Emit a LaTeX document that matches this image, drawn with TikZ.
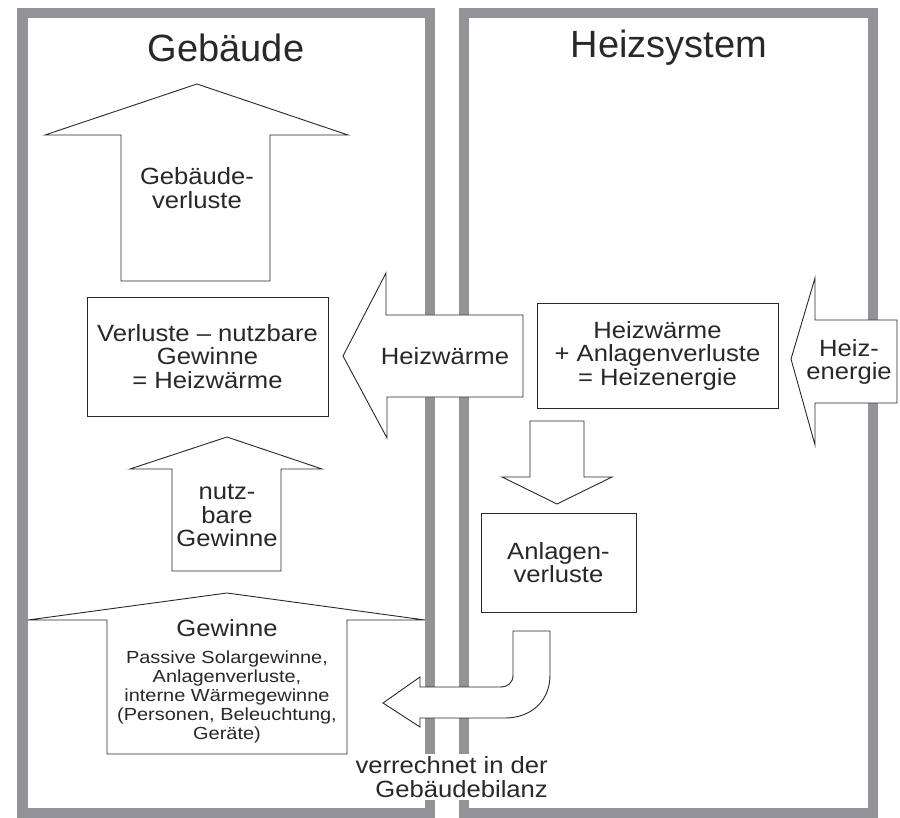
\documentclass[tikz,border=0pt]{standalone}
\usepackage{fontspec}
\setmainfont{Liberation Sans}
\newfontfamily\widefont{Liberation Sans}[FakeStretch=1.09,Ligatures=TeX]
\newfontfamily\smallwidefont{Liberation Sans}[FakeStretch=1.14,Ligatures=TeX]
\usetikzlibrary{positioning}
\definecolor{framegray}{RGB}{146,147,151}
\definecolor{inkgray}{RGB}{40,40,40}
\tikzset{box node/.style={draw=inkgray,fill=white,line width=0.9pt,align=center,text=inkgray,
    font=\widefont\fontsize{23.5}{23.5}\selectfont,inner sep=0pt}}

\begin{document}
\begin{tikzpicture}[x=1pt,y=-1pt,
        frame/.style={draw=framegray,line width=10.5pt},
        block arrow/.style={draw=inkgray,fill=white,line width=0.9pt,line join=miter},
        label node/.style={align=center,text=inkgray,font=\widefont\fontsize{23.5}{23.5}\selectfont,inner sep=1pt},
        small node/.style={align=center,text=inkgray,font=\smallwidefont\fontsize{17.5}{19}\selectfont,inner sep=0pt},
        title node/.style={text=inkgray,font=\fontsize{38}{40}\selectfont}]
  \useasboundingbox (0,0) rectangle (900,818);

  \draw[frame] (22.5,13) rectangle (430,813);
  \draw[frame] (464,13) rectangle (873,813);

  \node[title node] (geb) at (226,48) {Gebäude};
  \node[title node] (sys) at (669,48) {Heizsystem};

  \draw[block arrow] (121,281) -- (121,135) -- (45,135) -- (197,84) -- (348,135)
    -- (270,135) -- (270,281) -- cycle;
  \node[label node] (verl) at (197,188) {Gebäude-\\verluste};

  \node[box node,minimum width=241pt,minimum height=119pt] (bilanz) at (207.5,356.5)
    {Verluste -- nutzbare\\Gewinne\\= Heizwärme};

  \draw[block arrow] (172,571) -- (172,469) -- (130,469) -- (227,437) -- (322,469)
    -- (281,469) -- (281,571) -- cycle;
  \node[label node] (nutz) at (227,516) {nutz-\\bare\\Gewinne};

  \draw[block arrow] (107,754) -- (107,620) -- (28,620) -- (227,593) -- (425,620)
    -- (347,620) -- (347,754) -- cycle;
  \node[label node] (gew) at (227,628) {Gewinne};
  \node[small node] (quellen) at (227,697)
    {Passive Solargewinne,\\Anlagenverluste,\\interne Wärmegewinne\\(Personen, Beleuchtung,\\Geräte)};

  \draw[block arrow] (523,315) -- (386,315) -- (386,273) -- (343,356) -- (387,438)
    -- (387,397) -- (523,397) -- cycle;
  \node[label node] (hw) at (445,356) {Heizwärme};

  \node[box node,minimum width=241pt,minimum height=105pt] (summe) at (657.5,355.5)
    {Heizwärme\\+ Anlagenverluste\\= Heizenergie};

  \draw[block arrow] (897,320) -- (815,320) -- (815,278) -- (791,359) -- (815,445)
    -- (815,403) -- (897,403) -- cycle;
  \node[label node] (he) at (849,362) {Heiz-\\energie};

  \draw[block arrow] (530,421) -- (584,421) -- (584,477) -- (612,477) -- (557,504)
    -- (502,477) -- (530,477) -- cycle;

  \node[box node,minimum width=155pt,minimum height=99pt] (anl) at (558.5,562.5)
    {Anlagen-\\verluste};

  \draw[block arrow] (550,631) -- (550,675) .. controls (550,702) and (530,718) .. (505,718)
    -- (420,718) -- (420,727) -- (383,703) -- (420,677) -- (420,687) -- (500,687)
    .. controls (508,687) and (513,683) .. (513,675) -- (513,631) -- cycle;

  \node[label node,fill=white,anchor=east,align=right,inner sep=3pt] (verr) at (551,777)
    {verrechnet in der\\Gebäudebilanz};
\end{tikzpicture}
\end{document}
